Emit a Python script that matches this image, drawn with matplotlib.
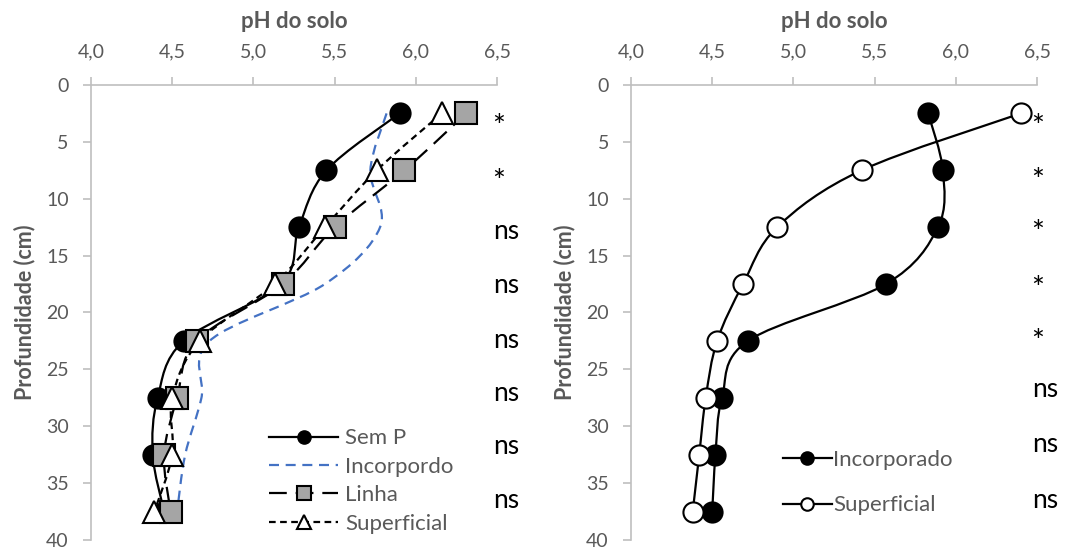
import matplotlib.pyplot as plt
from matplotlib.path import Path
from matplotlib.patches import PathPatch
from matplotlib.lines import Line2D

plt.rcParams['font.family'] = ['Lato', 'DejaVu Sans']

# Depths (cm)
depth = [2.5, 7.5, 12.5, 17.5, 22.5, 27.5, 32.5, 37.5]

# Left panel: pH by treatment
sem_p = [5.90, 5.45, 5.28, 5.17, 4.57, 4.41, 4.38, 4.45]
incorpordo = [5.82, 5.72, 5.78, 5.44, 4.73, 4.68, 4.58, 4.53]
linha = [6.31, 5.93, 5.50, 5.18, 4.65, 4.53, 4.45, 4.49]
superficial_l = [6.16, 5.76, 5.44, 5.13, 4.67, 4.50, 4.50, 4.39]

# Right panel
incorporado_r = [5.83, 5.92, 5.89, 5.57, 4.72, 4.56, 4.52, 4.50]
superficial_r = [6.40, 5.42, 4.90, 4.69, 4.53, 4.46, 4.42, 4.38]

# significance labels
sig_left = ['*', '*', 'ns', 'ns', 'ns', 'ns', 'ns', 'ns']
sig_left_y = [2.8, 7.65, 12.9, 17.6, 22.5, 27.1, 31.8, 36.5]
sig_right = ['*', '*', '*', '*', '*', 'ns', 'ns', 'ns']
sig_right_y = [2.8, 7.5, 12.1, 17.0, 21.7, 26.8, 31.6, 36.5]

xticks = [4.0, 4.5, 5.0, 5.5, 6.0, 6.5]
xtick_labels = ['4,0', '4,5', '5,0', '5,5', '6,0', '6,5']
yticks = [0, 5, 10, 15, 20, 25, 30, 35, 40]

GRAY = '#595959'
SPINE = '#BFBFBF'


def smooth_path(x, y):
    # Catmull-Rom style bezier like a spreadsheet's smoothed line
    pts = list(zip(x, y))
    n = len(pts)
    verts = [pts[0]]
    codes = [Path.MOVETO]
    for i in range(n - 1):
        p0 = pts[i - 1] if i > 0 else pts[i]
        p1 = pts[i]
        p2 = pts[i + 1]
        p3 = pts[i + 2] if i + 2 < n else pts[i + 1]
        c1 = (p1[0] + (p2[0] - p0[0]) / 6, p1[1] + (p2[1] - p0[1]) / 6)
        c2 = (p2[0] - (p3[0] - p1[0]) / 6, p2[1] - (p3[1] - p1[1]) / 6)
        verts += [c1, c2, p2]
        codes += [Path.CURVE4] * 3
    return Path(verts, codes)


def add_series(ax, x, y, color, ls, marker=None, mfc=None, ms=14):
    patch = PathPatch(smooth_path(x, y), facecolor='none', edgecolor=color,
                      lw=1.6, linestyle=ls, zorder=2)
    ax.add_patch(patch)
    if marker:
        ax.plot(x, y, linestyle='none', marker=marker, ms=ms, mfc=mfc,
                mec='black', mew=1.5, zorder=3)


def style_axes(ax):
    ax.set_xlim(4.0, 6.5)
    ax.set_ylim(40, 0)
    ax.xaxis.tick_top()
    ax.xaxis.set_label_position('top')
    ax.set_xticks(xticks)
    ax.set_xticklabels(xtick_labels)
    ax.set_yticks(yticks)
    for s in ['right', 'bottom']:
        ax.spines[s].set_visible(False)
    for s in ['left', 'top']:
        ax.spines[s].set_color(SPINE)
        ax.spines[s].set_linewidth(1.2)
    ax.tick_params(axis='both', colors=SPINE, labelcolor=GRAY, labelsize=14,
                   length=6, width=1.2, direction='out')
    ax.tick_params(axis='x', pad=12)
    ax.tick_params(axis='y', pad=10)
    ax.set_xlabel('pH do solo', fontsize=16, fontweight='bold', color=GRAY, labelpad=11)
    ax.set_ylabel('Profundidade (cm)', fontsize=15.5, fontweight='bold', color=GRAY, labelpad=8)
    ax.patch.set_alpha(0)


def add_sig(ax, labels, ys, x_star, x_ns):
    for s, yy in zip(labels, ys):
        if s == '*':
            ax.text(x_star, yy + 0.9, s, ha='center', va='center', fontsize=22,
                    color='black', clip_on=False)
        else:
            ax.text(x_ns, yy, s, ha='center', va='center', fontsize=19,
                    color='black', clip_on=False)


fig = plt.figure(figsize=(10.67, 5.51), dpi=100)
ax1 = fig.add_axes([0.0853, 0.020, 0.3805, 0.8258])
ax2 = fig.add_axes([0.5914, 0.020, 0.3805, 0.8258])

# Left panel
add_series(ax1, incorpordo, depth, '#4472C4', (0, (4.5, 3)))
add_series(ax1, sem_p, depth, 'black', '-', 'o', 'black', 14.5)
add_series(ax1, linha, depth, 'black', (0, (8, 4)), 's', '#A5A5A5', 15.5)
add_series(ax1, superficial_l, depth, 'black', (0, (3, 2)), '^', 'white', 16)
style_axes(ax1)

h1 = [
    Line2D([], [], color='black', lw=1.6, marker='o', ms=9.5, mfc='black', mec='black'),
    Line2D([], [], color='#4472C4', lw=1.6, linestyle=(0, (4.5, 3))),
    Line2D([], [], color='black', lw=1.6, linestyle=(0, (8, 4)), marker='s', ms=10,
           mfc='#A5A5A5', mec='black', mew=1.5),
    Line2D([], [], color='black', lw=1.6, linestyle=(0, (3, 2)), marker='^', ms=10,
           mfc='white', mec='black', mew=1.5),
]
leg1 = ax1.legend(h1, ['Sem P', 'Incorpordo', 'Linha', 'Superficial'],
                  loc='lower left', bbox_to_anchor=(0.39, -0.03), frameon=False,
                  fontsize=16, handlelength=3.1, labelspacing=0.38, handletextpad=0.3)
for t in leg1.get_texts():
    t.set_color(GRAY)

add_sig(ax1, sig_left, sig_left_y, 6.51, 6.555)

# Right panel
add_series(ax2, incorporado_r, depth, 'black', '-', 'o', 'black', 14.5)
add_series(ax2, superficial_r, depth, 'black', '-', 'o', 'white', 14.5)
style_axes(ax2)

h2 = [
    Line2D([], [], color='black', lw=1.6, marker='o', ms=9, mfc='black', mec='black', mew=1.5),
    Line2D([], [], color='black', lw=1.6, marker='o', ms=9, mfc='white', mec='black', mew=1.5),
]
leg2 = ax2.legend(h2, ['Incorporado', 'Superficial'],
                  loc='lower left', bbox_to_anchor=(0.325, 0.01), frameon=False,
                  fontsize=16, handlelength=2.2, labelspacing=1.15, handletextpad=0.05)
for t in leg2.get_texts():
    t.set_color(GRAY)

add_sig(ax2, sig_right, sig_right_y, 6.506, 6.55)

fig.savefig('out.png', dpi=100)
